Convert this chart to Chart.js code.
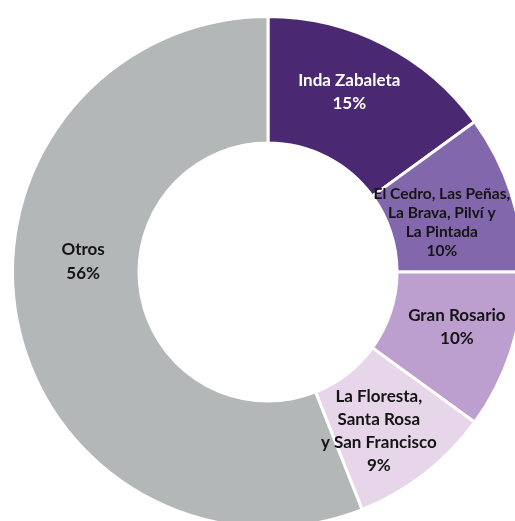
<!DOCTYPE html>
<html>
<head>
<meta charset="utf-8">
<script src="https://cdn.jsdelivr.net/npm/chart.js@4"></script>
<style>
    html, body { margin: 0; padding: 0; background: #ffffff; overflow: hidden; }
    body { width: 515px; height: 521px; position: relative; }
    #wrap { position: absolute; left: 11px; top: 15px; width: 514px; height: 514px; }
</style>
</head>
<body>
<div id="wrap"><canvas id="donaBarrios"></canvas></div>
<script>
// Participación por barrio (%)
const barrios = [
    ['Inda Zabaleta'],
    ['El Cedro, Las Peñas,', 'La Brava, Pilví y', 'La Pintada'],
    ['Gran Rosario'],
    ['La Floresta,', 'Santa Rosa', 'y San Francisco'],
    ['Otros']
];
const porcentajes = [15, 10, 10, 9, 56];
const colores = ['#4b2872', '#8367ad', '#bc9fcf', '#e7d6ea', '#b3b7b8'];
const coloresTexto = ['#ffffff', '#141414', '#141414', '#141414', '#141414'];

// ajuste fino de cada etiqueta respecto al centro del sector
const ajusteEtiqueta = [[-6, -9], [-9, 10], [6, -4], [-7, 7], [4, -47]];
const altoLinea = [23, 19, 23, 23, 24];
const tamFuente = [17, 15.5, 17, 17, 17];

const etiquetasPlugin = {
    id: 'etiquetas',
    afterDatasetsDraw(chart) {
        const ctx = chart.ctx;
        const meta = chart.getDatasetMeta(0);
        meta.data.forEach((arc, i) => {
            const p = arc.getCenterPoint();
            const lineas = barrios[i].concat([porcentajes[i] + '%']);
            const x = p.x + ajusteEtiqueta[i][0];
            const y0 = p.y + ajusteEtiqueta[i][1] - (lineas.length - 1) * altoLinea[i] / 2;
            ctx.save();
            ctx.font = 'bold ' + tamFuente[i] + 'px Lato, "Open Sans", sans-serif';
            ctx.fillStyle = coloresTexto[i];
            ctx.textAlign = 'center';
            ctx.textBaseline = 'middle';
            lineas.forEach((t, j) => ctx.fillText(t, x, y0 + j * altoLinea[i]));
            ctx.restore();
        });
    }
};

new Chart(document.getElementById('donaBarrios'), {
    type: 'doughnut',
    data: {
        labels: barrios.map(b => b.join(' ')),
        datasets: [{
            data: porcentajes,
            backgroundColor: colores,
            borderColor: '#ffffff',
            borderWidth: 3
        }]
    },
    options: {
        responsive: true,
        maintainAspectRatio: false,
        animation: false,
        cutout: '50.5%',
        layout: { padding: 0 },
        plugins: {
            legend: { display: false },
            tooltip: { enabled: false }
        }
    },
    plugins: [etiquetasPlugin]
});
</script>
</body>
</html>
